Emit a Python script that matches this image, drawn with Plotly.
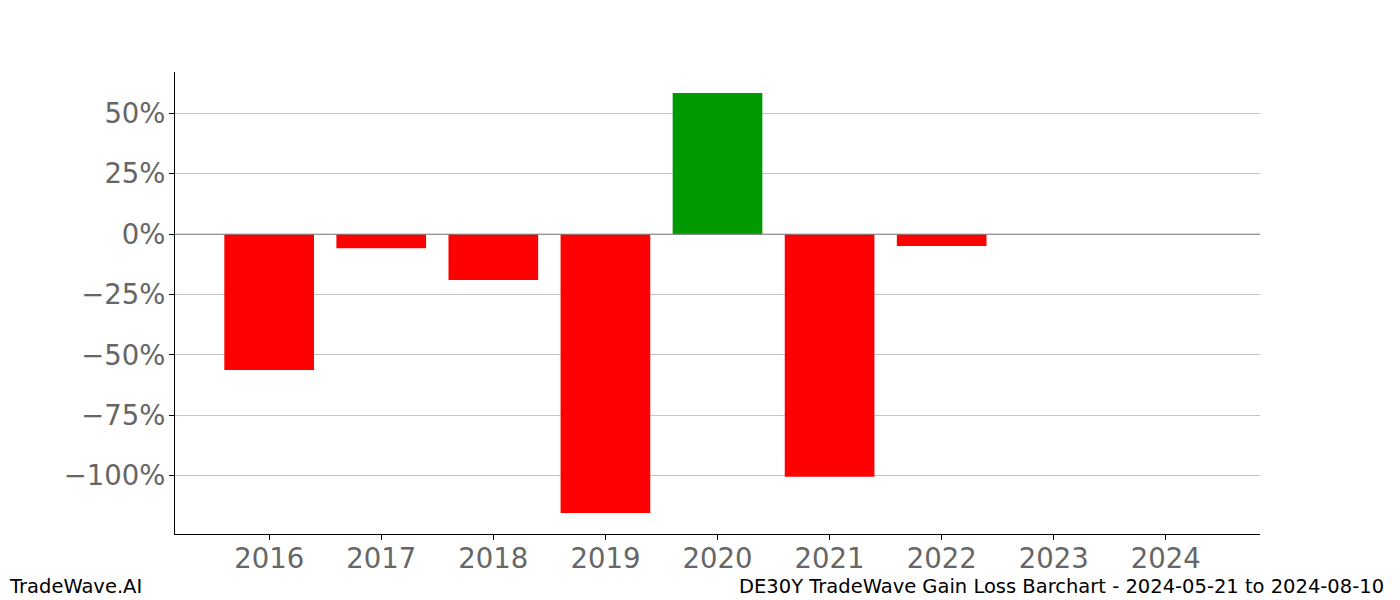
import plotly.graph_objects as go

years = [2016, 2017, 2018, 2019, 2020, 2021, 2022, 2023, 2024]
gains = [-56.3, -5.8, -19.0, -115.5, 58.5, -100.5, -4.9, 0.0, 0.0]
y_ticks = [-100, -75, -50, -25, 0, 25, 50]
y_tick_labels = ["\u2212100%", "\u221275%", "\u221250%", "\u221225%", "0%", "25%", "50%"]

colors = ["#009900" if v > 0 else "#ff0000" for v in gains]

fig = go.Figure()
fig.add_trace(go.Bar(x=years, y=gains, marker=dict(color=colors, line=dict(width=0)), width=0.8))

fig.add_shape(type="line", xref="paper", x0=0, x1=1, yref="y", y0=0, y1=0,
              line=dict(color="#808080", width=1))

fig.update_layout(
    width=1400, height=600,
    margin=dict(l=175, r=140, t=72, b=66),
    paper_bgcolor="white", plot_bgcolor="white",
    font=dict(family="DejaVu Sans", color="#666666"),
    showlegend=False,
    bargap=0.2,
    xaxis=dict(range=[2015.16, 2024.84], tickmode="array", tickvals=years,
               ticktext=[str(y) for y in years],
               showline=True, linecolor="black", linewidth=1,
               ticks="outside", ticklen=5, tickcolor="black", ticklabelstandoff=-5,
               tickfont=dict(size=27.5, color="#666666"), showgrid=False, zeroline=False),
    yaxis=dict(range=[-124.2, 67.2], tickmode="array", tickvals=y_ticks, ticktext=y_tick_labels,
               showline=True, linecolor="black", linewidth=1,
               ticks="outside", ticklen=5, tickcolor="black", ticklabelstandoff=-2,
               tickfont=dict(size=27.5, color="#666666"),
               showgrid=True, gridcolor="#c4c4c4", gridwidth=1, zeroline=False),
)

fig.add_annotation(text="TradeWave.AI", xref="paper", yref="paper", x=-0.1548, y=-0.1147,
                   xanchor="left", yanchor="middle", showarrow=False,
                   font=dict(size=19.5, color="black", family="DejaVu Sans"))
fig.add_annotation(text="DE30Y TradeWave Gain Loss Barchart - 2024-05-21 to 2024-08-10",
                   xref="paper", yref="paper", x=1.1161, y=-0.1147,
                   xanchor="right", yanchor="middle", showarrow=False,
                   font=dict(size=19.5, color="black", family="DejaVu Sans"))

fig.write_html("out.html")
